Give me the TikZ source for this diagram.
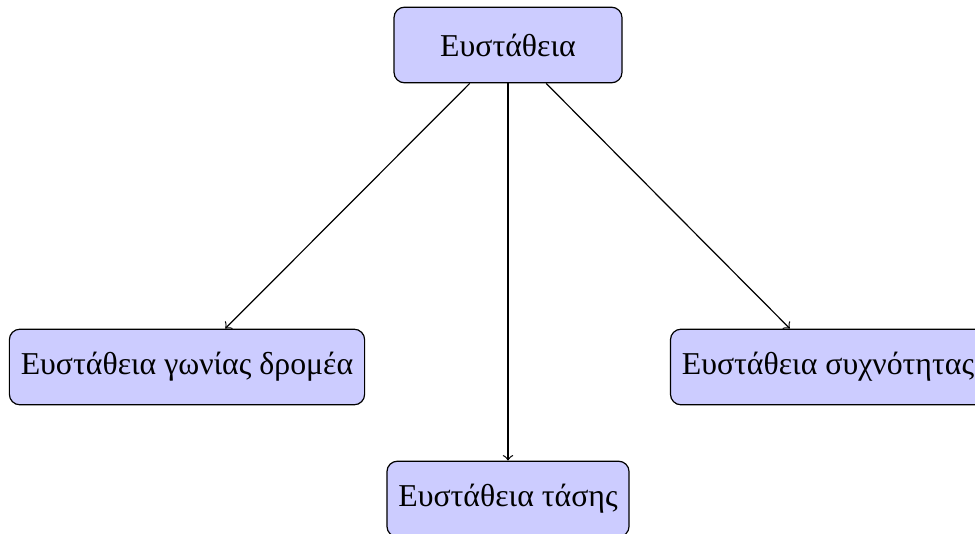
\documentclass[tikz,border=0pt]{standalone}
\usepackage{fontspec}
\setmainfont{Liberation Serif}
\begin{document}
\begin{tikzpicture}[x=0.33333pt, y=-0.33333pt,
  box/.style={draw, rounded corners=3.5pt, fill=blue!20, inner xsep=3.8pt,
    minimum height=25.2pt, font=\fontsize{10.6}{12.7}\selectfont},
  link/.style={->}]
\useasboundingbox (0,0) rectangle (975,533);
\node[box, minimum width=76pt] (root) at (508,45) {Ευστάθεια};
\node[box] (rotor) at (187,367) {Ευστάθεια γωνίας δρομέα};
\node[box] (volt) at (508,499) {Ευστάθεια τάσης};
\node[box] (freq) at (828,367) {Ευστάθεια συχνότητας};
\draw[link] (root) -- (rotor);
\draw[link] (root) -- (volt);
\draw[link] (root) -- (freq);
\end{tikzpicture}
\end{document}
